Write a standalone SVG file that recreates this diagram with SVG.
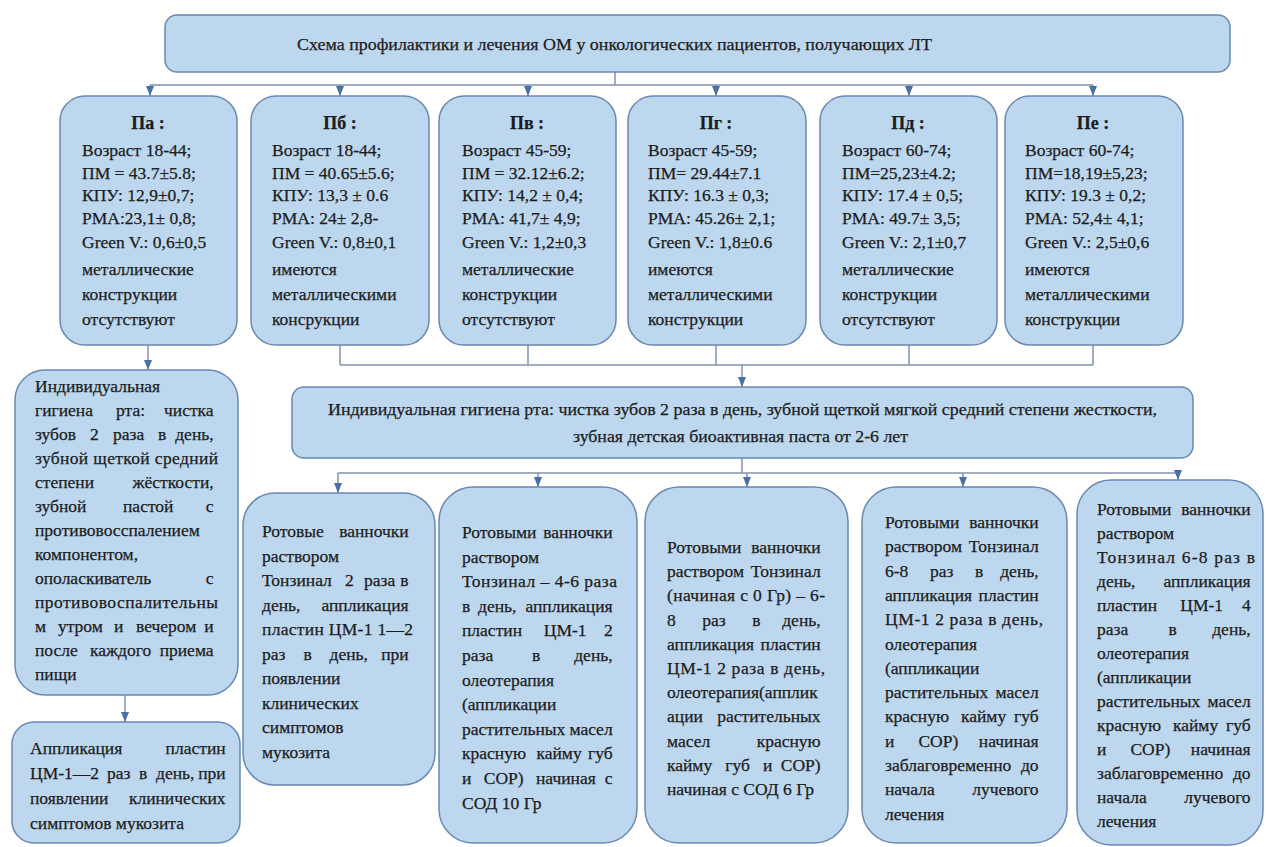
<svg xmlns="http://www.w3.org/2000/svg" width="1266" height="847" viewBox="0 0 1266 847">
<style>
.box{fill:#bdd7ee;stroke:#6a88b0;stroke-width:1.5}
.t{font-family:"Liberation Serif","Times New Roman",serif;font-size:17.5px;fill:#1c1c1c;stroke:#1c1c1c;stroke-width:0.25}
.h{font-weight:bold;font-size:18px;text-anchor:middle}
.e{text-anchor:end}
.conn{stroke:#8393ad;stroke-width:1.5;fill:none}
.arr{stroke:#8393ad;stroke-width:1.5;fill:none;marker-end:url(#ah)}
</style>
<defs>
<marker id="ah" viewBox="0 0 10 8" refX="10" refY="4" markerWidth="10" markerHeight="8" markerUnits="userSpaceOnUse" orient="auto">
<path d="M0,0 L10,4 L0,8 z" fill="#4a6fa5"/>
</marker>
</defs>
<rect width="1266" height="847" fill="#ffffff"/>

<g id="connectors">
<path class="conn" d="M615 72 V85 M150 85 H1093"/>
<path class="arr" d="M150 85 V96"/>
<path class="arr" d="M340 85 V96"/>
<path class="arr" d="M528 85 V96"/>
<path class="arr" d="M716 85 V96"/>
<path class="arr" d="M909 85 V96"/>
<path class="arr" d="M1093 85 V96"/>
<path class="arr" d="M148 345 V370"/>
<path class="conn" d="M340 345 V365 M528 345 V365 M716 345 V365 M909 345 V365 M1093 345 V365 M340 365 H1093"/>
<path class="arr" d="M742 365 V387"/>
<path class="arr" d="M125 695 V722"/>
<path class="conn" d="M742 458 V473 M338 473 H1178"/>
<path class="arr" d="M338 473 V493"/>
<path class="arr" d="M538 473 V487"/>
<path class="arr" d="M747 473 V487"/>
<path class="arr" d="M963 473 V487"/>
<path class="arr" d="M1178 473 V480"/>
</g>

<g id="title">
<rect class="box" x="165" y="15" width="1065" height="57" rx="12"/>
<text class="t" x="297" y="50" textLength="635" lengthAdjust="spacingAndGlyphs">Схема профилактики  и лечения ОМ у онкологических пациентов, получающих ЛТ</text>
</g>

<g id="IIa">
<rect class="box" x="60" y="96" width="177" height="249" rx="25"/>
<text class="t h" x="148" y="129">Па :</text>
<text class="t"><tspan x="82" y="156">Возраст 18-44;</tspan><tspan x="82" y="179">ПМ = 43.7±5.8;</tspan><tspan x="82" y="201">КПУ: 12,9±0,7;</tspan><tspan x="82" y="224">РМА:23,1± 0,8;</tspan><tspan x="82" y="248">Green V.: 0,6±0,5</tspan><tspan x="82" y="275">металлические</tspan><tspan x="82" y="300">конструкции</tspan><tspan x="82" y="325">отсутствуют</tspan></text>
</g>

<g id="IIb">
<rect class="box" x="251" y="96" width="178" height="249" rx="25"/>
<text class="t h" x="340" y="129">Пб :</text>
<text class="t"><tspan x="272" y="156">Возраст 18-44;</tspan><tspan x="272" y="179">ПМ = 40.65±5.6;</tspan><tspan x="272" y="201">КПУ: 13,3 ± 0.6</tspan><tspan x="272" y="224">РМА: 24± 2,8-</tspan><tspan x="272" y="248">Green V.: 0,8±0,1</tspan><tspan x="272" y="275">имеются</tspan><tspan x="272" y="300">металлическими</tspan><tspan x="272" y="325">консрукции</tspan></text>
</g>

<g id="IIv">
<rect class="box" x="439" y="96" width="177" height="249" rx="25"/>
<text class="t h" x="527" y="129">Пв :</text>
<text class="t"><tspan x="462" y="156">Возраст 45-59;</tspan><tspan x="462" y="179">ПМ = 32.12±6.2;</tspan><tspan x="462" y="201">КПУ: 14,2 ± 0,4;</tspan><tspan x="462" y="224">РМА: 41,7± 4,9;</tspan><tspan x="462" y="248">Green V.: 1,2±0,3</tspan><tspan x="462" y="275">металлические</tspan><tspan x="462" y="300">конструкции</tspan><tspan x="462" y="325">отсутствуют</tspan></text>
</g>

<g id="IIg">
<rect class="box" x="628" y="96" width="178" height="249" rx="25"/>
<text class="t h" x="716" y="129">Пг :</text>
<text class="t"><tspan x="648" y="156">Возраст 45-59;</tspan><tspan x="648" y="179">ПМ= 29.44±7.1</tspan><tspan x="648" y="201">КПУ: 16.3 ± 0,3;</tspan><tspan x="648" y="224">РМА: 45.26± 2,1;</tspan><tspan x="648" y="248">Green V.: 1,8±0.6</tspan><tspan x="648" y="275">имеются</tspan><tspan x="648" y="300">металлическими</tspan><tspan x="648" y="325">конструкции</tspan></text>
</g>

<g id="IId">
<rect class="box" x="820" y="96" width="177" height="249" rx="25"/>
<text class="t h" x="908" y="129">Пд :</text>
<text class="t"><tspan x="842" y="156">Возраст 60-74;</tspan><tspan x="842" y="179">ПМ=25,23±4.2;</tspan><tspan x="842" y="201">КПУ: 17.4 ± 0,5;</tspan><tspan x="842" y="224">РМА: 49.7± 3,5;</tspan><tspan x="842" y="248">Green V.: 2,1±0,7</tspan><tspan x="842" y="275">металлические</tspan><tspan x="842" y="300">конструкции</tspan><tspan x="842" y="325">отсутствуют</tspan></text>
</g>

<g id="IIe">
<rect class="box" x="1005" y="96" width="178" height="249" rx="25"/>
<text class="t h" x="1093" y="129">Пе :</text>
<text class="t"><tspan x="1025" y="156">Возраст 60-74;</tspan><tspan x="1025" y="179">ПМ=18,19±5,23;</tspan><tspan x="1025" y="201">КПУ: 19.3 ± 0,2;</tspan><tspan x="1025" y="224">РМА: 52,4± 4,1;</tspan><tspan x="1025" y="248">Green V.: 2,5±0,6</tspan><tspan x="1025" y="275">имеются</tspan><tspan x="1025" y="300">металлическими</tspan><tspan x="1025" y="325">конструкции</tspan></text>
</g>

<g id="hygiene-left">
<rect class="box" x="15" y="370" width="223" height="325" rx="30"/>
<text class="t">
<tspan x="35" y="392">Индивидуальная</tspan>
<tspan x="35" y="416">гигиена </tspan><tspan x="116" y="416">рта: </tspan><tspan class="e" x="218" y="416">чистка</tspan>
<tspan x="35" y="440">зубов </tspan><tspan x="90" y="440">2 </tspan><tspan x="113" y="440">раза </tspan><tspan x="158" y="440">в </tspan><tspan class="e" x="218" y="440">день,</tspan>
<tspan x="35" y="464" textLength="183" lengthAdjust="spacing">зубной щеткой средний</tspan>
<tspan x="35" y="488">степени </tspan><tspan class="e" x="218" y="488">жёсткости,</tspan>
<tspan x="35" y="512">зубной </tspan><tspan x="123" y="512">пастой </tspan><tspan class="e" x="218" y="512">с</tspan>
<tspan x="35" y="536">противовосспалением</tspan>
<tspan x="35" y="560">компонентом,</tspan>
<tspan x="35" y="584">ополаскиватель </tspan><tspan class="e" x="218" y="584">с</tspan>
<tspan x="35" y="608" textLength="183" lengthAdjust="spacing">противовоспалительны</tspan>
<tspan x="35" y="632">м </tspan><tspan x="58" y="632">утром </tspan><tspan x="114" y="632">и </tspan><tspan x="136" y="632">вечером </tspan><tspan class="e" x="218" y="632">и</tspan>
<tspan x="35" y="656">после </tspan><tspan x="90" y="656">каждого </tspan><tspan class="e" x="218" y="656">приема</tspan>
<tspan x="35" y="680">пищи</tspan>
</text>
</g>

<g id="application-left">
<rect class="box" x="12" y="722" width="228" height="121" rx="22"/>
<text class="t">
<tspan x="30" y="754">Аппликация </tspan><tspan class="e" x="230" y="754">пластин</tspan>
<tspan x="30" y="779">ЦМ-1—2 </tspan><tspan x="107" y="779">раз </tspan><tspan x="139" y="779">в </tspan><tspan x="156" y="779">день, </tspan><tspan class="e" x="230" y="779">при</tspan>
<tspan x="30" y="804">появлении </tspan><tspan class="e" x="230" y="804">клинических</tspan>
<tspan x="30" y="829">симптомов мукозита</tspan>
</text>
</g>

<g id="hygiene-main">
<rect class="box" x="292" y="387" width="901" height="71" rx="12"/>
<text class="t" x="328" y="415" textLength="829" lengthAdjust="spacingAndGlyphs">Индивидуальная гигиена рта: чистка зубов 2 раза в день, зубной щеткой мягкой средний степени жесткости,</text>
<text class="t" x="573" y="442" textLength="335" lengthAdjust="spacingAndGlyphs">зубная детская биоактивная паста от 2-6 лет</text>
</g>

<g id="rinse-1">
<rect class="box" x="243" y="493" width="192" height="292" rx="32"/>
<text class="t">
<tspan x="262" y="537">Ротовые </tspan><tspan class="e" x="413" y="537">ванночки</tspan>
<tspan x="262" y="561.5">раствором</tspan>
<tspan x="262" y="586">Тонзинал </tspan><tspan x="345" y="586">2 </tspan><tspan x="364" y="586">раза </tspan><tspan class="e" x="413" y="586">в</tspan>
<tspan x="262" y="610.5">день, </tspan><tspan class="e" x="413" y="610.5">аппликация</tspan>
<tspan x="262" y="635" textLength="151" lengthAdjust="spacing">пластин ЦМ-1 1—2</tspan>
<tspan x="262" y="659.5">раз </tspan><tspan x="303.4" y="659.5">в </tspan><tspan x="329.5" y="659.5">день, </tspan><tspan class="e" x="413" y="659.5">при</tspan>
<tspan x="262" y="684">появлении</tspan>
<tspan x="262" y="708.5">клинических</tspan>
<tspan x="262" y="733">симптомов</tspan>
<tspan x="262" y="757.5">мукозита</tspan>
</text>
</g>

<g id="rinse-2">
<rect class="box" x="439" y="487" width="198" height="356" rx="34"/>
<text class="t">
<tspan x="462" y="538">Ротовыми </tspan><tspan class="e" x="617" y="538">ванночки</tspan>
<tspan x="462" y="562.6">раствором</tspan>
<tspan x="462" y="587.2" textLength="155" lengthAdjust="spacing">Тонзинал – 4-6 раза</tspan>
<tspan x="462" y="611.8">в </tspan><tspan x="478" y="611.8">день, </tspan><tspan class="e" x="617" y="611.8">аппликация</tspan>
<tspan x="462" y="636.4">пластин </tspan><tspan x="543.8" y="636.4">ЦМ-1 </tspan><tspan class="e" x="617" y="636.4">2</tspan>
<tspan x="462" y="661">раза </tspan><tspan x="532" y="661">в </tspan><tspan class="e" x="617" y="661">день,</tspan>
<tspan x="462" y="685.6">олеотерапия</tspan>
<tspan x="462" y="710.2">(аппликации</tspan>
<tspan x="462" y="734.8">растительных </tspan><tspan class="e" x="617" y="734.8">масел</tspan>
<tspan x="462" y="759.4">красную </tspan><tspan x="536.5" y="759.4">кайму </tspan><tspan class="e" x="617" y="759.4">губ</tspan>
<tspan x="462" y="784">и </tspan><tspan x="483.8" y="784">СОР) </tspan><tspan x="536" y="784">начиная </tspan><tspan class="e" x="617" y="784">с</tspan>
<tspan x="462" y="808.6">СОД 10 Гр</tspan>
</text>
</g>

<g id="rinse-3">
<rect class="box" x="645" y="487" width="203" height="356" rx="34"/>
<text class="t">
<tspan x="667" y="553">Ротовыми </tspan><tspan class="e" x="825" y="553">ванночки</tspan>
<tspan x="667" y="577.2">раствором </tspan><tspan class="e" x="825" y="577.2">Тонзинал</tspan>
<tspan x="667" y="601.4" textLength="158" lengthAdjust="spacing">(начиная с 0 Гр) – 6-</tspan>
<tspan x="667" y="625.6">8 </tspan><tspan x="702.3" y="625.6">раз </tspan><tspan x="752.3" y="625.6">в </tspan><tspan class="e" x="825" y="625.6">день,</tspan>
<tspan x="667" y="649.8">аппликация </tspan><tspan class="e" x="825" y="649.8">пластин</tspan>
<tspan x="667" y="674" textLength="158" lengthAdjust="spacing">ЦМ-1 2 раза в день,</tspan>
<tspan x="667" y="698.2">олеотерапия(апплик</tspan>
<tspan x="667" y="722.4">ации </tspan><tspan class="e" x="825" y="722.4">растительных</tspan>
<tspan x="667" y="746.6">масел </tspan><tspan class="e" x="825" y="746.6">красную</tspan>
<tspan x="667" y="770.8">кайму </tspan><tspan x="725.3" y="770.8">губ </tspan><tspan x="762.9" y="770.8">и </tspan><tspan class="e" x="825" y="770.8">СОР)</tspan>
<tspan x="667" y="795">начиная  с СОД 6 Гр</tspan>
</text>
</g>

<g id="rinse-4">
<rect class="box" x="862" y="487" width="205" height="356" rx="34"/>
<text class="t">
<tspan x="885" y="528">Ротовыми </tspan><tspan class="e" x="1043" y="528">ванночки</tspan>
<tspan x="885" y="552.3">раствором </tspan><tspan class="e" x="1043" y="552.3">Тонзинал</tspan>
<tspan x="885" y="576.6">6-8 </tspan><tspan x="929.9" y="576.6">раз </tspan><tspan x="975" y="576.6">в </tspan><tspan class="e" x="1043" y="576.6">день,</tspan>
<tspan x="885" y="600.9">аппликация </tspan><tspan class="e" x="1043" y="600.9">пластин</tspan>
<tspan x="885" y="625.2" textLength="158" lengthAdjust="spacing">ЦМ-1 2 раза в день,</tspan>
<tspan x="885" y="649.5">олеотерапия</tspan>
<tspan x="885" y="673.8">(аппликации</tspan>
<tspan x="885" y="698.1">растительных </tspan><tspan class="e" x="1043" y="698.1">масел</tspan>
<tspan x="885" y="722.4">красную </tspan><tspan x="961" y="722.4">кайму </tspan><tspan class="e" x="1043" y="722.4">губ</tspan>
<tspan x="885" y="746.7">и </tspan><tspan x="918.4" y="746.7">СОР) </tspan><tspan class="e" x="1043" y="746.7">начиная</tspan>
<tspan x="885" y="771">заблаговременно </tspan><tspan class="e" x="1043" y="771">до</tspan>
<tspan x="885" y="795.3">начала </tspan><tspan class="e" x="1043" y="795.3">лучевого</tspan>
<tspan x="885" y="819.6">лечения</tspan>
</text>
</g>

<g id="rinse-5">
<rect class="box" x="1077" y="480" width="186" height="365" rx="34"/>
<text class="t">
<tspan x="1097" y="515">Ротовыми </tspan><tspan class="e" x="1255" y="515">ванночки</tspan>
<tspan x="1097" y="539">раствором</tspan>
<tspan x="1097" y="563" textLength="158" lengthAdjust="spacing">Тонзинал 6-8 раз в</tspan>
<tspan x="1097" y="587">день, </tspan><tspan class="e" x="1255" y="587">аппликация</tspan>
<tspan x="1097" y="611">пластин </tspan><tspan x="1180.3" y="611">ЦМ-1 </tspan><tspan class="e" x="1255" y="611">4</tspan>
<tspan x="1097" y="635">раза </tspan><tspan x="1168.5" y="635">в </tspan><tspan class="e" x="1255" y="635">день,</tspan>
<tspan x="1097" y="659">олеотерапия</tspan>
<tspan x="1097" y="683">(аппликации</tspan>
<tspan x="1097" y="707">растительных </tspan><tspan class="e" x="1255" y="707">масел</tspan>
<tspan x="1097" y="731">красную </tspan><tspan x="1173" y="731">кайму </tspan><tspan class="e" x="1255" y="731">губ</tspan>
<tspan x="1097" y="755">и </tspan><tspan x="1130.4" y="755">СОР) </tspan><tspan class="e" x="1255" y="755">начиная</tspan>
<tspan x="1097" y="779">заблаговременно </tspan><tspan class="e" x="1255" y="779">до</tspan>
<tspan x="1097" y="803">начала </tspan><tspan class="e" x="1255" y="803">лучевого</tspan>
<tspan x="1097" y="827">лечения</tspan>
</text>
</g>
</svg>
